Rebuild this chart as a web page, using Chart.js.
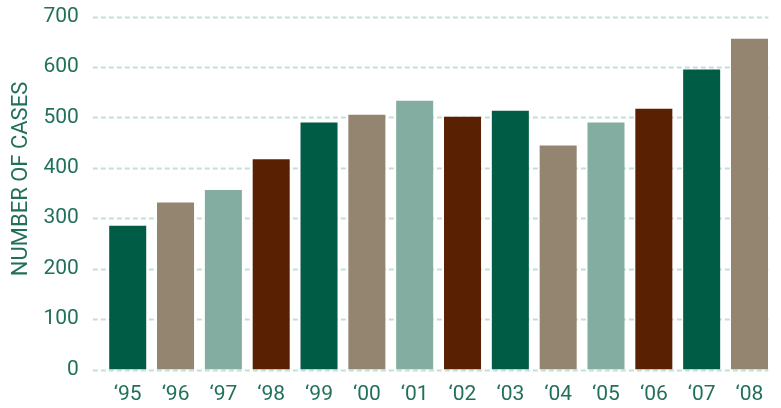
<!DOCTYPE html>
<html>
<head>
<meta charset="utf-8">
<script src="https://cdn.jsdelivr.net/npm/chart.js@4.4.0/dist/chart.umd.min.js"></script>
<style>
  html, body { margin: 0; padding: 0; background: #fff; }
  #wrap { width: 781px; height: 408px; position: relative; }
</style>
</head>
<body>
<div id="wrap"><canvas id="casesChart"></canvas></div>
<script>
const years = ["\u201895", "\u201896", "\u201897", "\u201898", "\u201899", "\u201800", "\u201801",
               "\u201802", "\u201803", "\u201804", "\u201805", "\u201806", "\u201807", "\u201808"];
const cases = [285, 331, 356, 417, 490, 505, 533, 501, 513, 444, 490, 517, 595, 656];
const yTicks = [0, 100, 200, 300, 400, 500, 600, 700];
const axisTitle = "NUMBER OF CASES";

const textColor = "#22705a";
const fontFamily = "Roboto, 'Liberation Sans', sans-serif";
const palette = ["#005c45", "#948570", "#82ada0", "#5a2002"];
const barColors = cases.map((v, i) => palette[i % palette.length]);

// dashed grid, a bit wider on the left than the bar area
const dashedGrid = {
  id: "dashedGrid",
  beforeDatasetsDraw(chart) {
    const ctx = chart.ctx;
    const y = chart.scales.y;
    const area = chart.chartArea;
    ctx.save();
    ctx.strokeStyle = "#c3e0d6";
    ctx.lineWidth = 2;
    ctx.setLineDash([5, 3]);
    y.ticks.forEach(t => {
      const py = Math.round(y.getPixelForValue(t.value)) + 0.5;
      ctx.beginPath();
      ctx.moveTo(area.left - 11, py);
      ctx.lineTo(area.right - 5, py);
      ctx.stroke();
    });
    ctx.restore();
  }
};

// y axis title, sits a little above the middle of the axis
const sideTitle = {
  id: "sideTitle",
  afterDraw(chart) {
    const ctx = chart.ctx;
    ctx.save();
    ctx.translate(21, 179);
    ctx.rotate(-Math.PI / 2);
    ctx.font = "22px " + fontFamily;
    ctx.fillStyle = textColor;
    ctx.textAlign = "center";
    ctx.textBaseline = "middle";
    ctx.fillText(axisTitle, 0, 0);
    ctx.restore();
  }
};

new Chart(document.getElementById("casesChart"), {
  type: "bar",
  data: {
    labels: years,
    datasets: [{
      data: cases,
      backgroundColor: barColors,
      borderWidth: 0,
      categoryPercentage: 1,
      barPercentage: 0.774
    }]
  },
  options: {
    responsive: true,
    maintainAspectRatio: false,
    animation: false,
    layout: { padding: { top: 16.5, right: 7.6, left: 0, bottom: 0 } },
    plugins: {
      legend: { display: false },
      tooltip: { enabled: false }
    },
    scales: {
      x: {
        grid: { display: false, drawTicks: false },
        border: { display: false },
        ticks: {
          color: textColor,
          padding: 13,
          maxRotation: 0,
          font: { family: fontFamily, size: 21 }
        },
        afterFit(scale) { scale.height = 38.5; }
      },
      y: {
        min: 0,
        max: 700,
        grid: { display: false, drawTicks: false },
        border: { display: false },
        afterBuildTicks(scale) { scale.ticks = yTicks.map(v => ({ value: v })); },
        ticks: {
          color: textColor,
          padding: 25,
          font: { family: fontFamily, size: 21 }
        },
        afterFit(scale) {
          scale.width = 103.8;
          scale.paddingTop = 0;
          scale.paddingBottom = 0;
        }
      }
    }
  },
  plugins: [dashedGrid, sideTitle]
});
</script>
</body>
</html>
